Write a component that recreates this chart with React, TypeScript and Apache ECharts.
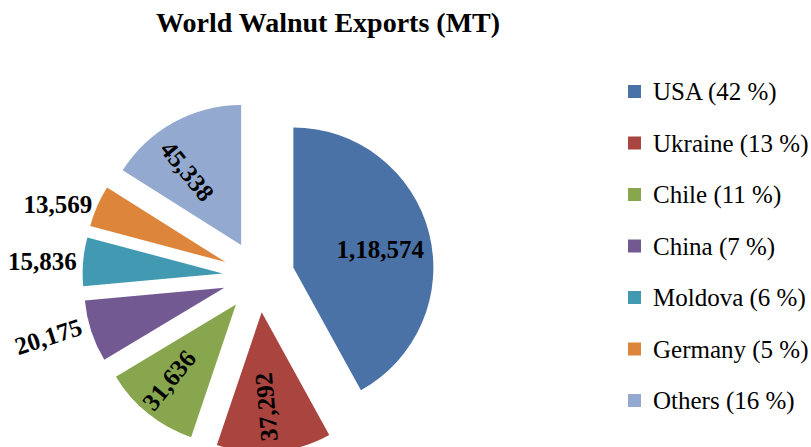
import React, { useEffect, useRef } from "react";
import * as echarts from "echarts";

const countries = ["USA", "Ukraine", "Chile", "China", "Moldova", "Germany", "Others"];
const exports = [118574, 37292, 31636, 20175, 15836, 13569, 45338];
const colors = ["#4A72A6", "#A9443F", "#87A64E", "#735992", "#4299B2", "#DD853B", "#93A9CF"];
const titleText = "World Walnut Exports (MT)";

// label styling (not data)
const labelRotate = [0, 95, 51, 18, 0, 0, -51];
const labelOutside = [false, false, false, true, true, true, false];
const labelShift = [[-7, 6], [-4, -2], [-6, 0], [-2, -8], [2, 3], [0, 16], [-7, 11]];

const FONT = "Liberation Serif";

const indianFormat = (n: number): string => {
  const s = String(Math.round(n));
  if (s.length <= 3) return s;
  const last3 = s.slice(-3);
  let rest = s.slice(0, -3);
  const parts: string[] = [];
  while (rest.length > 2) {
    parts.unshift(rest.slice(-2));
    rest = rest.slice(0, -2);
  }
  if (rest.length) parts.unshift(rest);
  return parts.join(",") + "," + last3;
};

const total = exports.reduce((a, b) => a + b, 0);

export default function App() {
  const ref = useRef<HTMLDivElement>(null);
  useEffect(() => {
    if (!ref.current) return;
    const chart = echarts.init(ref.current, undefined, { renderer: "svg" });
    const center = [258.5, 276.5];
    const offset = 36;
    const baseData = countries.map((name, i) => ({
      name,
      value: exports[i],
      selected: true,
      itemStyle: { color: colors[i] },
    }));
    const labelData = (outside: boolean) =>
      countries.map((name, i) => ({
        name,
        value: exports[i],
        selected: true,
        itemStyle: { color: "rgba(0,0,0,0)" },
        label: {
          show: labelOutside[i] === outside,
          rotate: labelRotate[i],
        },
      }));
    const labelCommon = {
      position: "inside",
      formatter: (p: any) => indianFormat(p.value),
      fontFamily: FONT,
      fontWeight: "bold",
      fontSize: 25,
      color: "#000",
      textBorderWidth: 0,
    };
    // shift is given in screen pixels; the layout applies it in the label's rotated frame
    const shiftLayout = (p: any) => {
      const [xs, ys] = labelShift[p.dataIndex];
      const r = (labelRotate[p.dataIndex] * Math.PI) / 180;
      const c = Math.cos(r);
      const s = Math.sin(r);
      return { dx: xs * c - ys * s, dy: xs * s + ys * c };
    };
    const pieCommon = {
      type: "pie",
      center,
      startAngle: 90,
      clockwise: true,
      selectedMode: "multiple",
      selectedOffset: offset,
      avoidLabelOverlap: false,
      labelLine: { show: false },
      emphasis: { disabled: true },
      select: { itemStyle: { borderWidth: 0 } },
      silent: true,
    };
    chart.setOption({
      animation: false,
      textStyle: { fontFamily: FONT },
      title: {
        text: titleText,
        left: 156,
        top: 8,
        padding: 0,
        textStyle: {
          fontFamily: FONT,
          fontWeight: "bold",
          fontSize: 28,
          color: "#000",
        },
      },
      legend: {
        orient: "vertical",
        left: 628,
        top: 79,
        padding: 0,
        itemWidth: 13,
        itemHeight: 13,
        itemGap: 26.5,
        icon: "rect",
        data: countries,
        selectedMode: false,
        formatter: (name: string) => {
          const i = countries.indexOf(name);
          return `{p|}{t|${name} (${Math.round((exports[i] / total) * 100)} %)}`;
        },
        textStyle: {
          fontFamily: FONT,
          fontSize: 25,
          lineHeight: 24,
          color: "#000",
          rich: {
            p: { width: 7, height: 24 },
            t: { fontFamily: FONT, fontSize: 25, lineHeight: 24, color: "#000" },
          },
        },
      },
      series: [
        {
          ...pieCommon,
          radius: 140,
          label: { show: false },
          data: baseData,
        },
        {
          ...pieCommon,
          radius: [48, 140],
          label: labelCommon,
          labelLayout: shiftLayout,
          data: labelData(false),
        },
        {
          ...pieCommon,
          radius: [140, 220],
          label: labelCommon,
          labelLayout: shiftLayout,
          data: labelData(true),
        },
      ],
    });
    return () => chart.dispose();
  }, []);
  return (
    <div
      ref={ref}
      style={{ position: "absolute", left: 0, top: 0, width: 811, height: 447, background: "#fff" }}
    />
  );
}
